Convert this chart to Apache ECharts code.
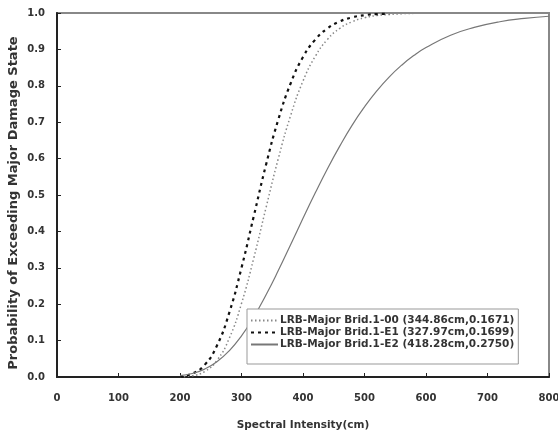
<!DOCTYPE html>
<html><head><meta charset="utf-8">
<script src="https://cdn.jsdelivr.net/npm/echarts@6/dist/echarts.min.js"></script>
<style>html,body{margin:0;padding:0;background:#fff}#c{width:558px;height:432px}</style>
</head><body><div id="c"></div>
<script>
const seriesNames = ["LRB-Major Brid.1-00 (344.86cm,0.1671)", "LRB-Major Brid.1-E1 (327.97cm,0.1699)", "LRB-Major Brid.1-E2 (418.28cm,0.2750)"];
const xA = [200,220,240,260,280,300,320,340,360,380,400,420,440,460,480,500,520,540,560,580];
const yA = [0.0006,0.0036,0.015,0.0455,0.106,0.202,0.327,0.466,0.601,0.719,0.813,0.881,0.928,0.958,0.976,0.987,0.993,0.996,0.998,0.999];
const xB = [200,220,240,260,280,300,320,340,360,380,400,420,440,460,480,500,520,540];
const yB = [0.0018,0.0094,0.033,0.086,0.176,0.300,0.442,0.584,0.708,0.807,0.879,0.927,0.958,0.977,0.988,0.994,0.997,0.998];
const xC = [200,220,240,260,280,300,320,340,360,380,400,420,440,460,480,500,520,540,560,580,600,640,680,720,760,800];
const yC = [0.0036,0.0097,0.0217,0.042,0.072,0.113,0.165,0.226,0.293,0.364,0.436,0.506,0.573,0.635,0.692,0.742,0.786,0.824,0.856,0.883,0.905,0.939,0.961,0.976,0.985,0.991];
const xTicks = [0,100,200,300,400,500,600,700,800];
const yTicks = [0,0.1,0.2,0.3,0.4,0.5,0.6,0.7,0.8,0.9,1.0];
const yTitle = 'Probability of Exceeding Major Damage State';
const xTitle = 'Spectral Intensity(cm)';

const zip = (xs, ys) => xs.map((x, i) => [x, ys[i]]);
const font = '"DejaVu Sans", Arial, sans-serif';
const chart = echarts.init(document.getElementById('c'), null, {renderer: 'canvas'});
chart.setOption({
  animation: false,
  backgroundColor: '#fff',
  grid: {left: 57, right: 9, top: 13, bottom: 55, containLabel: false, outerBoundsMode: 'none',
         show: true, borderColor: '#888', borderWidth: 2, backgroundColor: 'transparent'},
  graphic: [{
    type: 'text', x: 14, y: 203, rotation: Math.PI / 2,
    style: {text: yTitle, fontFamily: font, fontWeight: 'bold', fontSize: 13, fill: '#333',
            align: 'center', verticalAlign: 'middle'}
  }],
  xAxis: {
    type: 'value', min: 0, max: 800, interval: 100,
    name: xTitle, nameLocation: 'middle', nameGap: 43,
    nameTextStyle: {fontFamily: font, fontWeight: 'bold', fontSize: 10.5, color: '#333'},
    axisLine: {show: true, lineStyle: {color: '#222', width: 2}},
    axisTick: {show: true, inside: true, length: 4, lineStyle: {color: '#222'}},
    axisLabel: {fontFamily: font, fontWeight: 'bold', fontSize: 10, color: '#333', margin: 16},
    splitLine: {show: false}
  },
  yAxis: {
    type: 'value', min: 0, max: 1, interval: 0.1,
    axisLine: {show: true, lineStyle: {color: '#222', width: 2}},
    axisTick: {show: true, inside: true, length: 4, lineStyle: {color: '#222'}},
    axisLabel: {fontFamily: font, fontWeight: 'bold', fontSize: 10, color: '#333', margin: 12,
      formatter: v => v.toFixed(1)},
    splitLine: {show: false}
  },
  legend: {
    orient: 'vertical', left: 247, top: 309,
    backgroundColor: '#fff', borderColor: '#999', borderWidth: 1,
    padding: [6, 4, 14, 3], itemGap: 1, itemWidth: 27, itemHeight: 11,
    itemStyle: {opacity: 0},
    textStyle: {fontFamily: font, fontWeight: 'bold', fontSize: 10.5, color: '#333', padding: [0, 0, 0, -3]},
    data: seriesNames
  },
  series: [
    {name: seriesNames[0], type: 'line', data: zip(xA, yA), symbol: 'none', smooth: true,
     lineStyle: {color: '#888', width: 1.5, type: [1.5, 2.5]}, itemStyle: {color: '#888'}},
    {name: seriesNames[1], type: 'line', data: zip(xB, yB), symbol: 'none', smooth: true,
     lineStyle: {color: '#111', width: 2.2, type: [3, 4]}, itemStyle: {color: '#111'}},
    {name: seriesNames[2], type: 'line', data: zip(xC, yC), symbol: 'none', smooth: true,
     lineStyle: {color: '#777', width: 1.2, type: 'solid'}, itemStyle: {color: '#777'}}
  ]
});
</script></body></html>
